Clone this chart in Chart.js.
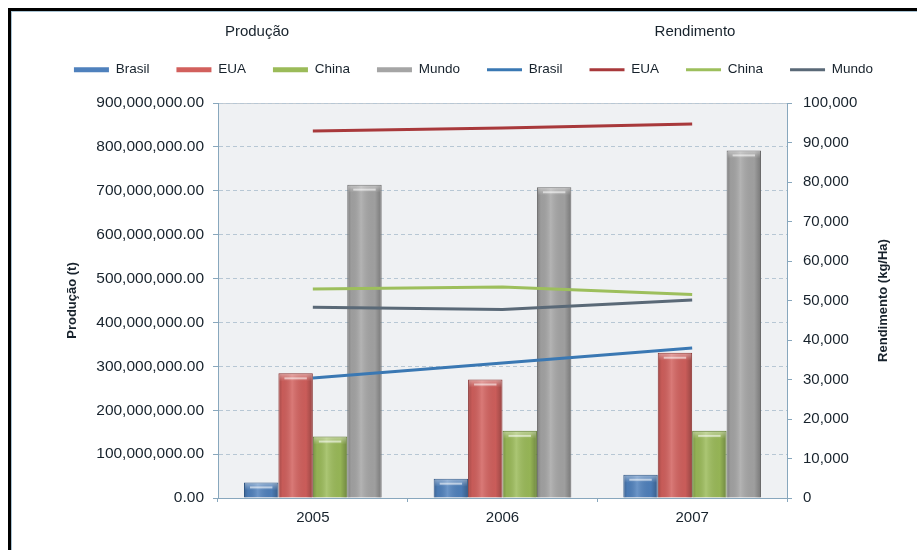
<!DOCTYPE html>
<html>
<head>
<meta charset="utf-8">
<script src="https://cdn.jsdelivr.net/npm/chart.js@4.4.1/dist/chart.umd.min.js"></script>
<style>
  body { margin: 0; background: #fff; }
  #wrap { position: relative; width: 917px; height: 550px; overflow: hidden; }
  #frame {
    position: absolute; left: 8px; top: 8px; width: 920px; height: 560px;
    border-top: 3px solid #000; border-left: 3px solid #000;
    box-shadow: inset 1px 1px 0 #a9c3d3;
  }
  #myChart { position: absolute; left: 0; top: 0; }
</style>
</head>
<body>
<div id="wrap">
  <div id="frame"></div>
  <canvas id="myChart" width="917" height="550"></canvas>
</div>
<script>
const years = ['2005', '2006', '2007'];

// Produção (t)
const prodBrasil = [35500000, 44000000, 53000000];
const prodEUA = [284000000, 270000000, 331000000];
const prodChina = [140000000, 153000000, 153000000];
const prodMundo = [714000000, 708000000, 792000000];

// Rendimento (kg/Ha)
const rendBrasil = [30400, 34200, 38000];
const rendEUA = [92900, 93700, 94700];
const rendChina = [52900, 53400, 51500];
const rendMundo = [48300, 47700, 50100];

const leftTicks = { min: 0, max: 900000000, step: 100000000 };
const rightTicks = { min: 0, max: 100000, step: 10000 };

const textColor = '#17222c';
const axisColor = '#88a7bd';
const fontFamily = 'Arial, "Liberation Sans", sans-serif';

function barSet(label, data, color, border) {
  return {
    type: 'bar', label: label, data: data, yAxisID: 'y', order: 1,
    backgroundColor: color, borderColor: border, borderWidth: 1,
    legendColor: color
  };
}

function lineSet(label, data, color) {
  return {
    type: 'line', label: label, data: data, yAxisID: 'y1', order: 0,
    borderColor: color, backgroundColor: color, borderWidth: 3,
    pointRadius: 0, tension: 0, legendColor: color
  };
}

const data = {
  labels: years,
  datasets: [
    barSet('Brasil', prodBrasil, '#4f81bd', '#2f5684'),
    barSet('EUA', prodEUA, '#d2605d', '#8a3432'),
    barSet('China', prodChina, '#9bbb59', '#5f7a30'),
    barSet('Mundo', prodMundo, '#a5a5a5', '#6a6a6a'),
    lineSet('Brasil', rendBrasil, '#3a78b3'),
    lineSet('EUA', rendEUA, '#a8393b'),
    lineSet('China', rendChina, '#9dbf5c'),
    lineSet('Mundo', rendMundo, '#5a6977')
  ]
};

// plot background, header titles, right axis title, bar shading
const decor = {
  id: 'decor',
  beforeInit(chart) {
    const fit = chart.legend.fit;
    chart.legend.fit = function () {
      fit.bind(this)();
      this.height = 67;
    };
  },
  beforeDraw(chart) {
    const a = chart.chartArea;
    const ctx = chart.ctx;
    ctx.save();
    ctx.fillStyle = '#eff1f3';
    ctx.fillRect(a.left, a.top, a.right - a.left, a.bottom - a.top);
    ctx.strokeStyle = '#c4cbd2';
    ctx.lineWidth = 1;
    ctx.beginPath();
    ctx.moveTo(a.left, a.top + 0.5);
    ctx.lineTo(a.right, a.top + 0.5);
    ctx.stroke();
    ctx.restore();
  },
  afterDatasetDraw(chart, args) {
    const meta = args.meta;
    if (meta.type !== 'bar') return;
    const ctx = chart.ctx;
    ctx.save();
    meta.data.forEach(function (bar) {
      const left = bar.x - bar.width / 2;
      const w = bar.width;
      const h = bar.base - bar.y;
      const g = ctx.createLinearGradient(left, 0, left + w, 0);
      g.addColorStop(0, 'rgba(0,0,0,0.22)');
      g.addColorStop(0.12, 'rgba(0,0,0,0.05)');
      g.addColorStop(0.4, 'rgba(255,255,255,0.16)');
      g.addColorStop(0.8, 'rgba(0,0,0,0.04)');
      g.addColorStop(1, 'rgba(0,0,0,0.28)');
      ctx.fillStyle = g;
      ctx.fillRect(left + 1, bar.y + 1, w - 2, h - 1);
      if (h > 8) {
        // light bevel along the top edge
        const t = ctx.createLinearGradient(0, bar.y + 1, 0, bar.y + 8);
        t.addColorStop(0, 'rgba(255,255,255,0.35)');
        t.addColorStop(1, 'rgba(255,255,255,0)');
        ctx.fillStyle = t;
        ctx.fillRect(left + 1, bar.y + 1, w - 2, 7);
        ctx.fillStyle = 'rgba(255,255,255,0.55)';
        ctx.fillRect(left + 6, bar.y + 4, w - 12, 2);
      }
    });
    ctx.restore();
  },
  afterDraw(chart) {
    const ctx = chart.ctx;
    const a = chart.chartArea;
    ctx.save();
    ctx.fillStyle = textColor;
    ctx.textAlign = 'center';
    ctx.textBaseline = 'middle';
    ctx.font = '15px ' + fontFamily;
    ctx.fillText('Produção', 257, 32);
    ctx.fillText('Rendimento', 695, 32);
    ctx.font = 'bold 13px ' + fontFamily;
    ctx.translate(883, (a.top + a.bottom) / 2);
    ctx.rotate(-Math.PI / 2);
    ctx.fillText('Rendimento (kg/Ha)', 0, 0);
    ctx.restore();
  }
};

const config = {
  data: data,
  options: {
    responsive: false,
    devicePixelRatio: 1,
    animation: false,
    layout: { padding: { top: 36, left: 30, right: 0, bottom: 22 } },
    datasets: {
      bar: { categoryPercentage: 0.726, barPercentage: 1.0 }
    },
    plugins: {
      tooltip: { enabled: false },
      legend: {
        position: 'top',
        labels: {
          color: textColor,
          font: { family: fontFamily, size: 13.5 },
          usePointStyle: true,
          pointStyleWidth: 35,
          boxHeight: 6,
          padding: 27,
          generateLabels(chart) {
            return chart.data.datasets.map(function (ds, i) {
              return {
                text: ds.label,
                fillStyle: ds.legendColor,
                strokeStyle: ds.legendColor,
                lineWidth: ds.type === 'bar' ? 5 : 3,
                lineCap: 'butt',
                pointStyle: 'line',
                rotation: 0,
                fontColor: textColor,
                datasetIndex: i
              };
            });
          }
        }
      }
    },
    scales: {
      x: {
        offset: true,
        grid: { display: true, drawOnChartArea: false, offset: true, tickLength: 4, color: axisColor },
        border: { color: axisColor },
        ticks: { color: textColor, font: { family: fontFamily, size: 15 }, padding: 7 },
        afterFit(s) { s.height = 30; }
      },
      y: {
        position: 'left',
        min: leftTicks.min,
        max: leftTicks.max,
        ticks: {
          stepSize: leftTicks.step,
          color: textColor,
          font: { family: fontFamily, size: 15.5 },
          padding: 9,
          callback(v) {
            return v.toLocaleString('en-US', { minimumFractionDigits: 2, maximumFractionDigits: 2 });
          }
        },
        grid: { color: '#b7c7d4', tickColor: axisColor, tickLength: 5 },
        border: { color: axisColor, dash: [4, 3] },
        title: {
          display: true,
          text: 'Produção (t)',
          color: textColor,
          font: { family: fontFamily, size: 13, weight: 'bold' },
          padding: { top: 35, bottom: 0 }
        },
        afterFit(s) { s.width = 188; }
      },
      y1: {
        position: 'right',
        min: rightTicks.min,
        max: rightTicks.max,
        ticks: {
          stepSize: rightTicks.step,
          color: textColor,
          font: { family: fontFamily, size: 15 },
          padding: 11,
          callback(v) { return v.toLocaleString('en-US'); }
        },
        grid: { drawOnChartArea: false, color: axisColor, tickLength: 5 },
        border: { color: axisColor },
        afterFit(s) { s.width = 130; }
      }
    }
  },
  plugins: [decor]
};

const myChart = new Chart(
  document.getElementById('myChart'),
  config
);
</script>
</body>
</html>
